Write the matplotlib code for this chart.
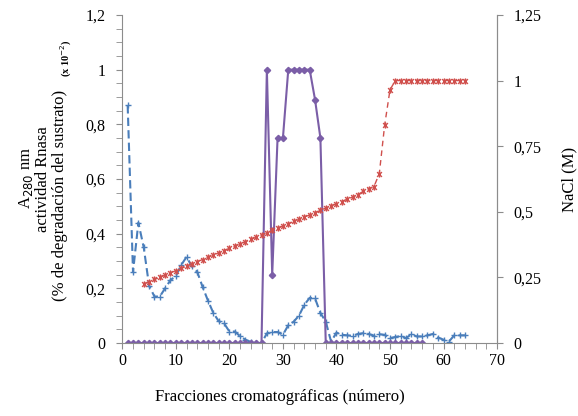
import matplotlib
matplotlib.use("Agg")
import matplotlib.pyplot as plt
from matplotlib.path import Path
from matplotlib.ticker import MultipleLocator, FuncFormatter

plt.rcParams['font.family'] = ['Liberation Serif', 'DejaVu Serif']

# A280 nm (left axis)
a280_x = list(range(1, 65))
a280_y = [0.87, 0.26, 0.44, 0.35, 0.21, 0.17, 0.17, 0.20, 0.23, 0.245,
          0.285, 0.315, 0.28, 0.26, 0.205, 0.155, 0.11, 0.08, 0.072, 0.042,
          0.042, 0.025, 0.012, 0.004, 0.0, 0.0, 0.035, 0.04, 0.04, 0.03,
          0.065, 0.078, 0.10, 0.14, 0.165, 0.163, 0.11, 0.078, 0.005, 0.038,
          0.03, 0.028, 0.026, 0.033, 0.036, 0.033, 0.027, 0.032, 0.03, 0.018,
          0.022, 0.026, 0.018, 0.032, 0.024, 0.024, 0.028, 0.033, 0.02, 0.012,
          0.005, 0.028, 0.028, 0.028]

# actividad Rnasa (left axis)
rnasa_x = list(range(1, 57))
rnasa_y = [0] * 26 + [1.0, 0.25, 0.75, 0.75, 1.0, 1.0, 1.0, 1.0, 1.0, 0.89, 0.75] + [0] * 19

# NaCl (M) (right axis)
nacl_x = list(range(4, 65))
nacl_y = [0.225, 0.233, 0.242, 0.25, 0.259, 0.267, 0.276, 0.284, 0.293, 0.301,
          0.31, 0.318, 0.327, 0.335, 0.344, 0.352, 0.361, 0.369, 0.378, 0.386,
          0.395, 0.403, 0.412, 0.42, 0.429, 0.437, 0.446, 0.454, 0.463, 0.471,
          0.48, 0.488, 0.497, 0.505, 0.514, 0.522, 0.531, 0.539, 0.548, 0.556,
          0.565, 0.578, 0.588, 0.596, 0.645, 0.83, 0.965] + [1.0] * 14

def comma(v, pos):
    s = ('%.2f' % v).rstrip('0').rstrip('.')
    return s.replace('.', ',')

# excel-like star marker: an x with a vertical bar
star = Path([(-1, -1), (1, 1), (-1, 1), (1, -1), (0, -1.3), (0, 1.3)],
            [Path.MOVETO, Path.LINETO, Path.MOVETO, Path.LINETO, Path.MOVETO, Path.LINETO])

grey = '#8c8c8c'
fig = plt.figure(figsize=(5.78, 4.16), dpi=100)
ax = fig.add_axes([0.2116, 0.1755, 0.6484, 0.7885])

ax.plot(a280_x, a280_y, color='#4a7ebb', lw=1.5, ls=(0, (4, 2)),
        marker='+', ms=4.5, mew=1.0)
ax.plot(rnasa_x, rnasa_y, color='#7b5ea7', lw=1.5, marker='D', ms=3.2)

ax.set_xlim(0, 70)
ax.set_ylim(0, 1.2)
ax.xaxis.set_major_locator(MultipleLocator(10))
ax.xaxis.set_minor_locator(MultipleLocator(2))
ax.yaxis.set_major_locator(MultipleLocator(0.2))
ax.yaxis.set_minor_locator(MultipleLocator(0.05))
ax.yaxis.set_major_formatter(FuncFormatter(comma))
ax.spines['top'].set_visible(False)
for s in ['left', 'bottom', 'right']:
    ax.spines[s].set_color(grey)
ax.tick_params(which='both', colors=grey, labelcolor='black', labelsize=11.5, length=4)
ax.tick_params(axis='y', pad=8)

ax2 = ax.twinx()
ax2.plot(nacl_x, nacl_y, color='#d0504d', lw=1.0, ls=(0, (4, 3)),
         marker=star, ms=4.5, mew=1.0, mfc='none')
ax2.set_ylim(0, 1.25)
ax2.yaxis.set_major_locator(MultipleLocator(0.25))
ax2.yaxis.set_major_formatter(FuncFormatter(comma))
ax2.spines['top'].set_visible(False)
ax2.spines['left'].set_visible(False)
ax2.spines['bottom'].set_visible(False)
ax2.spines['right'].set_color(grey)
ax2.tick_params(colors=grey, labelcolor='black', labelsize=11.5, length=4, pad=8)

ax2.set_ylabel('NaCl (M)', fontsize=12, labelpad=14)
fig.text(0.484, 0.046, 'Fracciones cromatográficas (número)', ha='center', va='center', fontsize=12)

fig.text(0.045, 0.573, 'A$_{280}$ nm', rotation=90, ha='center', va='center', fontsize=12)
fig.text(0.074, 0.57, 'actividad Rnasa', rotation=90, ha='center', va='center', fontsize=12)
fig.text(0.104, 0.53, '(% de degradación del sustrato)', rotation=90, ha='center', va='center', fontsize=12)
fig.text(0.114, 0.86, '(x 10$^{-2}$)', rotation=90, ha='center', va='center', fontsize=7.5, fontweight='bold')

fig.savefig('out.png', dpi=100)
